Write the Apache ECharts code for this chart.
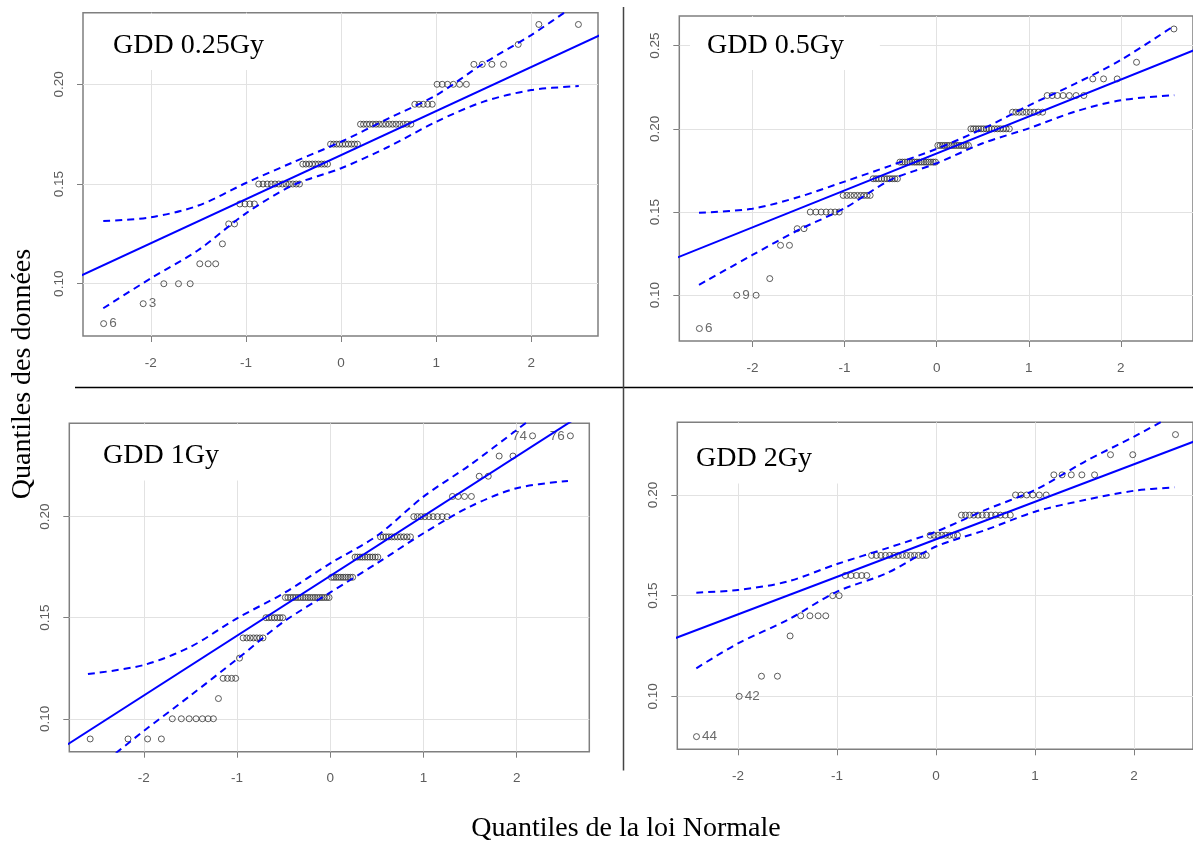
<!DOCTYPE html>
<html><head><meta charset="utf-8">
<script src="https://cdn.jsdelivr.net/npm/echarts@6/dist/echarts.min.js"></script>
<style>html,body{margin:0;padding:0;background:#fff}#c{width:1193px;height:843px}</style>
</head><body><div id="c"></div>
<script>
// theoretical normal quantiles (n = 80, 100, 64)
const q80 = [-2.496,-2.080,-1.863,-1.709,-1.586,-1.485,-1.397,-1.318,-1.247,-1.181,-1.120,-1.064,-1.010,-0.959,-0.911,-0.865,-0.820,-0.776,-0.734,-0.694,-0.655,-0.616,-0.579,-0.543,-0.507,-0.471,-0.437,-0.402,-0.369,-0.335,-0.302,-0.270,-0.237,-0.205,-0.173,-0.142,-0.110,-0.078,-0.047,-0.016,
 0.016,0.047,0.078,0.110,0.142,0.173,0.205,0.237,0.270,0.302,0.335,0.369,0.402,0.437,0.471,0.507,0.543,0.579,0.616,0.655,0.694,0.734,0.776,0.820,0.865,0.911,0.959,1.010,1.064,1.120,1.181,1.247,1.318,1.397,1.485,1.586,1.709,1.863,2.080,2.496];
const q100 = [-2.576,-2.170,-1.960,-1.812,-1.695,-1.598,-1.514,-1.440,-1.372,-1.311,-1.254,-1.200,-1.150,-1.103,-1.058,-1.015,-0.974,-0.935,-0.896,-0.860,-0.824,-0.789,-0.755,-0.722,-0.690,-0.659,-0.628,-0.598,-0.568,-0.539,-0.510,-0.482,-0.454,-0.426,-0.399,-0.372,-0.345,-0.319,-0.292,-0.266,-0.240,-0.215,-0.189,-0.164,-0.138,-0.113,-0.088,-0.063,-0.038,-0.013,
 0.013,0.038,0.063,0.088,0.113,0.138,0.164,0.189,0.215,0.240,0.266,0.292,0.319,0.345,0.372,0.399,0.426,0.454,0.482,0.510,0.539,0.568,0.598,0.628,0.659,0.690,0.722,0.755,0.789,0.824,0.860,0.896,0.935,0.974,1.015,1.058,1.103,1.150,1.200,1.254,1.311,1.372,1.440,1.514,1.598,1.695,1.812,1.960,2.170,2.576];
const q64 = [-2.418,-1.987,-1.762,-1.601,-1.473,-1.366,-1.273,-1.190,-1.113,-1.043,-0.978,-0.916,-0.858,-0.803,-0.750,-0.699,-0.650,-0.602,-0.556,-0.511,-0.467,-0.424,-0.381,-0.339,-0.298,-0.257,-0.217,-0.177,-0.137,-0.098,-0.059,-0.020,
 0.020,0.059,0.098,0.137,0.177,0.217,0.257,0.298,0.339,0.381,0.424,0.467,0.511,0.556,0.602,0.650,0.699,0.750,0.803,0.858,0.916,0.978,1.043,1.113,1.190,1.273,1.366,1.473,1.601,1.762,1.987,2.418];

// sorted sample values: level and how many points sit on it
const p1Levels = [0.08,0.09,0.10,0.11,0.12,0.13,0.14,0.15,0.16,0.17,0.18,0.19,0.20,0.21,0.22,0.23];
const p1Counts = [1,1,3,3,1,2,4,12,9,10,16,5,6,4,1,2];
const p2Levels = [0.08,0.10,0.11,0.13,0.14,0.15,0.16,0.17,0.18,0.19,0.20,0.21,0.22,0.23,0.24,0.26];
const p2Counts = [1,2,1,2,2,7,9,10,16,14,15,9,7,3,1,1];
const p3Levels = [0.09,0.10,0.11,0.12,0.13,0.14,0.15,0.16,0.17,0.18,0.19,0.20,0.21,0.22,0.23,0.24];
const p3Counts = [4,7,1,4,1,7,7,19,10,10,11,9,4,2,2,2];
const p4Levels = [0.08,0.10,0.11,0.13,0.14,0.15,0.16,0.17,0.18,0.19,0.20,0.21,0.22,0.23];
const p4Counts = [1,1,2,1,4,2,5,14,8,12,6,5,2,1];

// labelled points (rank index -> text)
const p1LabelIdx = [0,1];   const p1LabelText = ['6','3'];
const p2LabelIdx = [0,1];   const p2LabelText = ['6','9'];
const p3LabelIdx = [98,99]; const p3LabelText = ['74','76'];
const p4LabelIdx = [0,1];   const p4LabelText = ['44','42'];

// fitted reference lines
const p1FitX = [-2.9,2.9]; const p1FitY = [0.1004,0.2286];
const p2FitX = [-2.9,2.9]; const p2FitY = [0.1208,0.2496];
const p3FitX = [-2.9,2.9]; const p3FitY = [0.0849,0.2565];
const p4FitX = [-2.8,2.8]; const p4FitY = [0.1258,0.2302];

// confidence envelopes
const p1BandX = [-2.50,-2.0,-1.5,-1.0,-0.5,0,0.5,1.0,1.5,2.0,2.50];
const p1Upper = [0.1314,0.1333,0.1392,0.1505,0.1610,0.1712,0.1829,0.1945,0.2105,0.2247,0.2410];
const p1Lower = [0.0877,0.1027,0.1169,0.1353,0.1495,0.1579,0.1687,0.1812,0.1913,0.1971,0.1991];
const p2BandX = [-2.58,-2.0,-1.5,-1.0,-0.5,0,0.5,1.0,1.5,2.0,2.58];
const p2Upper = [0.1496,0.1520,0.1590,0.1683,0.1779,0.1880,0.2000,0.2140,0.2270,0.2414,0.2620];
const p2Lower = [0.1062,0.1242,0.1392,0.1523,0.1693,0.1793,0.1913,0.2003,0.2103,0.2172,0.2202];
const p3UpperX = [-2.60,-2.0,-1.5,-1.0,-0.5,0,0.5,1.0,1.5,2.0,2.2];
const p3Upper = [0.1221,0.1266,0.1356,0.1497,0.1621,0.1769,0.1905,0.2099,0.2256,0.2429,0.2500];
const p3LowerX = [-2.3,-2.0,-1.5,-1.0,-0.5,0,0.5,1.0,1.5,2.0,2.55];
const p3Lower = [0.0830,0.0940,0.1115,0.1295,0.1480,0.1625,0.1769,0.1918,0.2050,0.2141,0.2177];
const p4BandX = [-2.42,-2.0,-1.5,-1.0,-0.5,0,0.5,1.0,1.5,2.0,2.41];
const p4Upper = [0.1515,0.1528,0.1570,0.1657,0.1735,0.1818,0.1926,0.2025,0.2165,0.2290,0.2400];
const p4Lower = [0.1139,0.1263,0.1379,0.1520,0.1611,0.1744,0.1826,0.1917,0.1975,0.2021,0.2038];

const titles = ['GDD 0.25Gy','GDD 0.5Gy','GDD 1Gy','GDD 2Gy'];
const xTickValues = [-2,-1,0,1,2];
const p1YTicks = [0.10,0.15,0.20];
const p2YTicks = [0.10,0.15,0.20,0.25];
const p3YTicks = [0.10,0.15,0.20];
const p4YTicks = [0.10,0.15,0.20];
const xAxisTitle = 'Quantiles de la loi Normale';
const yAxisTitle = 'Quantiles des données';

const panels = [
  {grid:{left:83,top:12.7,width:515,height:323.3}, x:[-2.713,2.702], y:[0.0738,0.2359], yTicks:p1YTicks,
   quant:q80, levels:p1Levels, counts:p1Counts, lIdx:p1LabelIdx, lText:p1LabelText, lPos:'right',
   fitX:p1FitX, fitY:p1FitY, upX:p1BandX, up:p1Upper, loX:p1BandX, lo:p1Lower,
   tbox:{left:100, top:14, padding:[17,17,9,13]}},
  {grid:{left:679.3,top:16,width:517,height:325}, x:[-2.794,2.783], y:[0.0725,0.2678], yTicks:p2YTicks,
   quant:q100, levels:p2Levels, counts:p2Counts, lIdx:p2LabelIdx, lText:p2LabelText, lPos:'right',
   fitX:p2FitX, fitY:p2FitY, upX:p2BandX, up:p2Upper, loX:p2BandX, lo:p2Lower,
   tbox:{left:690, top:17, padding:[14,36,9,17]}},
  {grid:{left:69.3,top:423.3,width:520,height:328.4}, x:[-2.800,2.779], y:[0.0837,0.2462], yTicks:p3YTicks,
   quant:q100, levels:p3Levels, counts:p3Counts, lIdx:p3LabelIdx, lText:p3LabelText, lPos:'left',
   fitX:p3FitX, fitY:p3FitY, upX:p3UpperX, up:p3Upper, loX:p3LowerX, lo:p3Lower,
   tbox:{left:88, top:424.5, padding:[16,34,10,15]}},
  {grid:{left:677.3,top:422.3,width:519,height:327}, x:[-2.612,2.595], y:[0.0737,0.2361], yTicks:p4YTicks,
   quant:q64, levels:p4Levels, counts:p4Counts, lIdx:p4LabelIdx, lText:p4LabelText, lPos:'right',
   fitX:p4FitX, fitY:p4FitY, upX:p4BandX, up:p4Upper, loX:p4BandX, lo:p4Lower,
   tbox:{left:682, top:423.5, padding:[20,40,10,14]}}
];

const BLUE = '#0000ff';
const tickFont = {fontFamily:'Liberation Sans', fontSize:13.5, color:'#5c5c5c'};
const grids=[], xAxes=[], yAxes=[], series=[], titleOpts=[];
const pairs = (xs, ys) => xs.map((x,i)=>[x, ys[i]]);

panels.forEach((p,k)=>{
  grids.push(Object.assign({show:true, borderColor:'#7f7f7f', borderWidth:1.5, backgroundColor:'transparent'}, p.grid));
  xAxes.push({type:'value', gridIndex:k, position:'bottom', min:p.x[0], max:p.x[1], minInterval:1, maxInterval:1,
    axisLine:{show:false, onZero:false},
    axisTick:{show:true, length:6, lineStyle:{color:'#7f7f7f', width:1}, customValues:xTickValues},
    axisLabel:Object.assign({margin:20, customValues:xTickValues,
      formatter:v=>String(Math.round(v))}, tickFont),
    splitLine:{show:true, lineStyle:{color:'#e2e2e2', width:1}}});
  yAxes.push({type:'value', gridIndex:k, position:'left', min:p.y[0], max:p.y[1], minInterval:0.05, maxInterval:0.05,
    axisLine:{show:false, onZero:false},
    axisTick:{show:true, length:6, lineStyle:{color:'#7f7f7f', width:1}, customValues:p.yTicks},
    axisLabel:Object.assign({margin:17, rotate:90, customValues:p.yTicks,
      formatter:v=>v.toFixed(2)}, tickFont),
    splitLine:{show:true, lineStyle:{color:'#e2e2e2', width:1}}});

  const pts=[]; let idx=0;
  p.levels.forEach((lv,j)=>{ for(let c=0;c<p.counts[j];c++){ pts.push([p.quant[idx], lv]); idx++; } });
  const data = pts.map((pt,i)=>{
    const li = p.lIdx.indexOf(i);
    return li>=0 ? {value:pt, label:{show:true, formatter:p.lText[li], position:p.lPos}} : pt;
  });
  series.push({type:'scatter', xAxisIndex:k, yAxisIndex:k, data, symbol:'circle', symbolSize:6,
    itemStyle:{color:'rgba(0,0,0,0)', borderColor:'#333', borderWidth:1},
    label:{show:false, distance:2, fontFamily:'Liberation Sans', fontSize:13.5, color:'#444'},
    z:2, silent:true});
  series.push({type:'line', xAxisIndex:k, yAxisIndex:k, data:pairs(p.fitX,p.fitY), symbol:'none',
    lineStyle:{color:BLUE, width:2}, z:3, silent:true});
  series.push({type:'line', xAxisIndex:k, yAxisIndex:k, data:pairs(p.upX,p.up), symbol:'none', smooth:0.3,
    lineStyle:{color:BLUE, width:2, type:[7,5]}, z:3, silent:true});
  series.push({type:'line', xAxisIndex:k, yAxisIndex:k, data:pairs(p.loX,p.lo), symbol:'none', smooth:0.3,
    lineStyle:{color:BLUE, width:2, type:[7,5]}, z:3, silent:true});
  titleOpts.push({text:titles[k], left:p.tbox.left, top:p.tbox.top, padding:p.tbox.padding,
    backgroundColor:'#ffffff', itemGap:0,
    textStyle:{fontFamily:'Liberation Serif', fontSize:28, fontWeight:'normal', color:'#000', lineHeight:30}});
});

const chart = echarts.init(document.getElementById('c'), null, {renderer:'canvas'});
chart.setOption({
  animation:false,
  backgroundColor:'#ffffff',
  title:titleOpts,
  grid:grids, xAxis:xAxes, yAxis:yAxes, series,
  graphic:[
    {type:'line', shape:{x1:75, y1:387.5, x2:1193, y2:387.5}, style:{stroke:'#000', lineWidth:1.5}, z:10},
    {type:'line', shape:{x1:623.5, y1:7, x2:623.5, y2:770.5}, style:{stroke:'#444', lineWidth:1.5}, z:10},
    {type:'text', x:23, y:374, rotation:Math.PI/2, z:10,
     style:{text:yAxisTitle, font:'28px "Liberation Serif"', fill:'#000', align:'center', verticalAlign:'middle'}},
    {type:'text', x:626, y:828.5, z:10,
     style:{text:xAxisTitle, font:'28px "Liberation Serif"', fill:'#000', align:'center', verticalAlign:'middle'}}
  ]
});
</script></body></html>
